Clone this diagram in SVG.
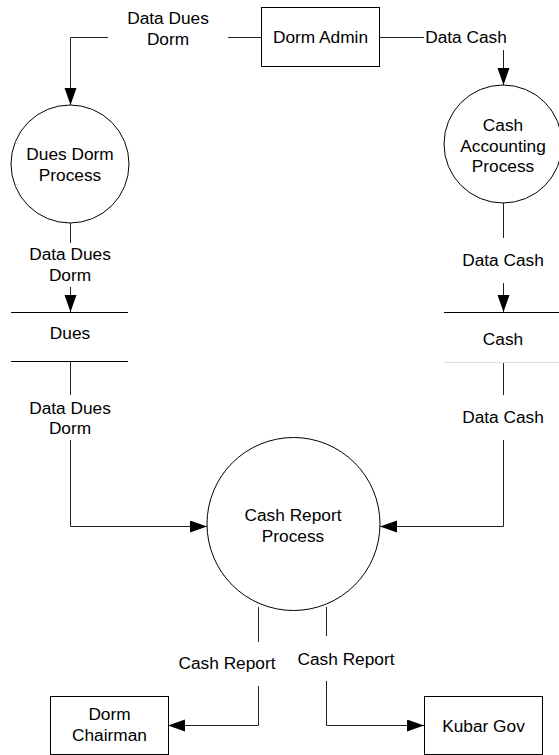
<svg xmlns="http://www.w3.org/2000/svg" width="559" height="755" viewBox="0 0 559 755">
  <style>
    text { font-family: "Liberation Sans", Arial, sans-serif; font-size: 17.3px; fill: #000; text-anchor: middle; }
    .shape { fill: #fff; stroke: #000; stroke-width: 1; }
    .flow { fill: none; stroke: #222; stroke-width: 1; }
    .store { stroke: #000; stroke-width: 1; }
    .store-faint { stroke: #ddd; stroke-width: 1; }
  </style>
  <defs>
    <marker id="arrow" markerUnits="userSpaceOnUse" markerWidth="18" markerHeight="13" refX="17" refY="6" orient="auto">
      <path d="M0,0 L17,6 L0,12 Z" fill="#000"/>
    </marker>
  </defs>
  <rect width="559" height="755" fill="#fff"/>

  <!-- data flows -->
  <g id="connectors">
    <!-- Dorm Admin -> Dues Dorm Process -->
    <path class="flow" d="M261,37.5 H228"/>
    <path class="flow" d="M108,37.5 H70.5 V105" marker-end="url(#arrow)"/>
    <text x="168" y="24">Data Dues</text>
    <text x="168" y="45">Dorm</text>

    <!-- Dorm Admin -> Cash Accounting Process -->
    <path class="flow" d="M380,37.5 H424"/>
    <path class="flow" d="M503.5,50 V85" marker-end="url(#arrow)"/>
    <text x="466" y="43">Data Cash</text>

    <!-- Dues Dorm Process -> Dues store -->
    <path class="flow" d="M70.5,223 V243"/>
    <path class="flow" d="M70.5,287 V312" marker-end="url(#arrow)"/>
    <text x="70" y="260">Data Dues</text>
    <text x="70" y="281">Dorm</text>

    <!-- Cash Accounting Process -> Cash store -->
    <path class="flow" d="M503.5,203 V238"/>
    <path class="flow" d="M503.5,283 V312" marker-end="url(#arrow)"/>
    <text x="503" y="266">Data Cash</text>

    <!-- Dues store -> Cash Report Process -->
    <path class="flow" d="M70.5,361 V395"/>
    <path class="flow" d="M70.5,440 V526.5 H207" marker-end="url(#arrow)"/>
    <text x="70" y="414">Data Dues</text>
    <text x="70" y="434">Dorm</text>

    <!-- Cash store -> Cash Report Process -->
    <path class="flow" d="M503.5,362 V395"/>
    <path class="flow" d="M503.5,440 V526.5 H380" marker-end="url(#arrow)"/>
    <text x="503" y="423">Data Cash</text>

    <!-- Cash Report Process -> Dorm Chairman -->
    <path class="flow" d="M258.5,607 V642"/>
    <path class="flow" d="M258.5,686 V725.5 H168" marker-end="url(#arrow)"/>
    <text x="227" y="669">Cash Report</text>

    <!-- Cash Report Process -> Kubar Gov -->
    <path class="flow" d="M326.5,607 V636"/>
    <path class="flow" d="M326.5,681 V725.5 H424" marker-end="url(#arrow)"/>
    <text x="346" y="665">Cash Report</text>
  </g>

  <!-- external entities -->
  <g id="dorm-admin">
    <rect class="shape" x="261.5" y="7.5" width="118" height="59"/>
    <text x="320.5" y="43">Dorm Admin</text>
  </g>
  <g id="dorm-chairman">
    <rect class="shape" x="50.5" y="696.5" width="118" height="58"/>
    <text x="109.5" y="720">Dorm</text>
    <text x="109.5" y="741">Chairman</text>
  </g>
  <g id="kubar-gov">
    <rect class="shape" x="424.5" y="696.5" width="118" height="58"/>
    <text x="483.5" y="732">Kubar Gov</text>
  </g>

  <!-- processes -->
  <g id="dues-dorm-process">
    <circle class="shape" cx="70" cy="164" r="59"/>
    <text x="70" y="160">Dues Dorm</text>
    <text x="70" y="181">Process</text>
  </g>
  <g id="cash-accounting-process">
    <circle class="shape" cx="503" cy="144" r="59"/>
    <text x="503" y="131">Cash</text>
    <text x="503" y="152">Accounting</text>
    <text x="503" y="172">Process</text>
  </g>
  <g id="cash-report-process">
    <circle class="shape" cx="293.5" cy="524" r="86.5"/>
    <text x="293" y="521">Cash Report</text>
    <text x="293" y="542">Process</text>
  </g>

  <!-- data stores -->
  <g id="dues-store">
    <line class="store" x1="11" y1="312.5" x2="128" y2="312.5"/>
    <line class="store" x1="11" y1="361.5" x2="128" y2="361.5"/>
    <text x="70" y="339">Dues</text>
  </g>
  <g id="cash-store">
    <line class="store" x1="444" y1="312.5" x2="559" y2="312.5"/>
    <line class="store-faint" x1="444" y1="362.5" x2="559" y2="362.5"/>
    <text x="503" y="345">Cash</text>
  </g>
</svg>
